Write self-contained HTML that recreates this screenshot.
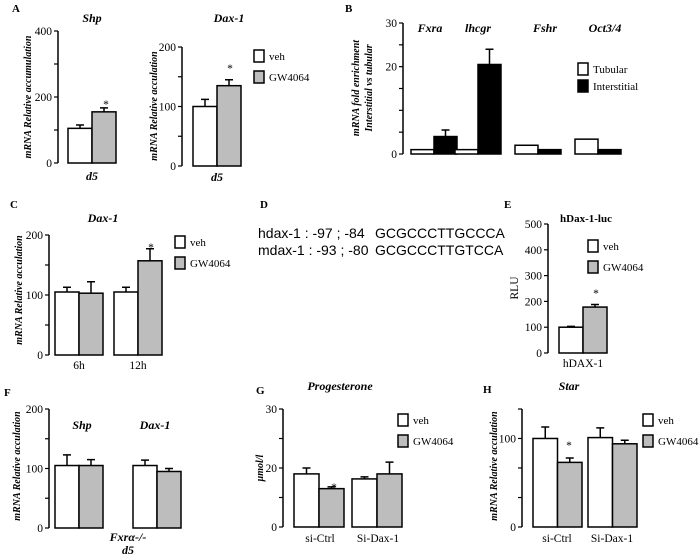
<!DOCTYPE html>
<html><head><meta charset="utf-8"><style>
body{margin:0;background:#fff}
svg{display:block;font-family:"Liberation Serif",serif}
.t{font-size:11.5px}
.lg{font-size:11px}
.ti{font-size:12px;font-style:italic;font-weight:bold}
.yl{font-size:10px;font-style:italic;font-weight:bold}
.pl{font-size:11px;font-weight:bold}
.seq{font-family:"Liberation Sans",sans-serif;font-size:14px}
</style></head><body>
<svg id="fig" width="700" height="556" viewBox="0 0 700 556">
<g id="static">
<text class="pl" x="12" y="12">A</text>
<text class="pl" x="345" y="12">B</text>
<text class="pl" x="10" y="208">C</text>
<text class="pl" x="260" y="208">D</text>
<text class="pl" x="504" y="208">E</text>
<text class="pl" x="4" y="396">F</text>
<text class="pl" x="256" y="394">G</text>
<text class="pl" x="483" y="393">H</text>
<text class="seq" x="258" y="238">hdax-1 : -97 ; -84<tspan x="375">GCGCCCTTGCCCA</tspan></text>
<text class="seq" x="258" y="255">mdax-1 : -93 ; -80<tspan x="375">GCGCCCTTGTCCA</tspan></text>
</g>
</svg>
<script>
const NS="http://www.w3.org/2000/svg";
const svg=document.getElementById('fig');
// Panel A1 Shp
const aShpCats=["d5"];
const aShpVeh=[105], aShpVehErr=[115], aShpGw=[155], aShpGwErr=[167];
const aShpTicks=[0,100,200,300,400], aShpTickLabels=["0","","200","","400"];
// Panel A2 Dax-1
const aDaxCats=["d5"];
const aDaxVeh=[100], aDaxVehErr=[112], aDaxGw=[135], aDaxGwErr=[145];
const aDaxTicks=[0,50,100,150,200], aDaxTickLabels=["0","","100","","200"];
// Panel B
const bCats=["Fxra","lhcgr","Fshr","Oct3/4"];
const bTub=[1,1,2,3.4], bTubErr=[null,null,null,null];
const bInt=[4,20.5,1,1], bIntErr=[5.5,24,null,null];
const bTicks=[0,5,10,15,20,25,30], bTickLabels=["0","","","","20","","30"];
// Panel C
const cCats=["6h","12h"];
const cVeh=[105,105], cVehErr=[113,113], cGw=[103,157], cGwErr=[122,177];
const cTicks=[0,50,100,150,200], cTickLabels=["0","","100","","200"];
// Panel E
const eCats=["hDAX-1"];
const eVeh=[100], eVehErr=[103], eGw=[178], eGwErr=[188];
const eTicks=[0,100,200,300,400,500], eTickLabels=["0","100","200","300","400","500"];
// Panel F
const fCats=["Shp","Dax-1"];
const fVeh=[105,105], fVehErr=[123,114], fGw=[105,95], fGwErr=[115,100];
const fTicks=[0,50,100,150,200], fTickLabels=["0","","100","","200"];
// Panel G
const gCats=["si-Ctrl","Si-Dax-1"];
const gVeh=[18,16.3], gVehErr=[20,17], gGw=[13,18], gGwErr=[13.6,22];
const gTicks=[0,10,20,30,40], gTickLabels=["0","","20","","30"];
// Panel H
const hCats=["si-Ctrl","Si-Dax-1"];
const hVeh=[100,101], hVehErr=[113,112], hGw=[73,94], hGwErr=[78,98];
const hTicks=[0,33.3,66.7,100,133.3], hTickLabels=["0","","","100",""];

function mk(tag,attrs,parent){const e=document.createElementNS(NS,tag);for(const k in attrs)e.setAttribute(k,attrs[k]);(parent||svg).appendChild(e);return e;}
function txt(s,attrs,parent){const e=mk('text',attrs,parent);e.textContent=s;return e;}

function panel(p){
  const g=mk('g',{});
  
  
  const y=v=>p.y0-(v-p.min)/(p.max-p.min)*(p.y0-p.y1);
  const ax=mk('line',{x1:p.ax,y1:p.y1,x2:p.ax,y2:p.y0,stroke:'#000','stroke-width':1.5},g);
  
  
  p.ticks.forEach((t,i)=>{
    const ty=y(t);
    const tk=mk('line',{x1:p.ax-4,y1:ty,x2:p.ax,y2:ty,stroke:'#000','stroke-width':1.2},g);
    
    
    if(p.tickLabels[i]){const tl=txt(p.tickLabels[i],{class:'t',x:p.ax-6,y:ty+4,'text-anchor':'end'},g);
      
      }
  });
  p.cats.forEach((c,i)=>{
    const x0=p.gx[i];
    [[p.s1[0],p.s1[1],p.c1],[p.s2[0],p.s2[1],p.c2]].forEach((s,j)=>{
      const bx=x0+j*p.bw, v=s[0][i];
      const ev=s[1][i];
      const cx=bx+p.bw/2;
      if(ev!=null){
        const el=mk('path',{d:`M${cx},${y(v)}V${y(ev)}M${cx-4},${y(ev)}H${cx+4}`,stroke:'#000','stroke-width':1.5,fill:'none'},g);
        
        
      }
      const r=mk('rect',{x:bx,y:y(v),width:p.bw,height:p.y0-y(v),fill:s[2],stroke:'#000','stroke-width':1.5},g);
      
      
    });
    if(p.catY){const cl=txt(c,{class:p.catClass||'t',x:p.catX?p.catX[i]:x0+p.bw,y:p.catY,'text-anchor':'middle'},g);
      
      }
  });
  (p.stars||[]).forEach(s=>{const st=txt('*',{class:'t',x:s[0],y:s[1],'text-anchor':'middle'},g);
    
    });
  if(p.title){const tt=txt(p.title,{class:p.titleClass||'ti',x:p.tx,y:p.ty,'text-anchor':'middle'},g);
    
    }
  if(p.ylab){p.ylab.forEach((l,k)=>{const yl=txt(l,{class:p.ylClass||'yl',x:0,y:0,'text-anchor':'middle',transform:`translate(${p.ylx[k]},${p.yly}) rotate(-90)`},g);
    
    });}
  if(p.leg){p.leg.labels.forEach((l,k)=>{
    const ly=p.leg.y+k*p.leg.dy;
    const b=mk('rect',{x:p.leg.x,y:ly,width:10,height:12,fill:k?p.c2:p.c1,stroke:'#000','stroke-width':1.5},g);
    
    
    const lt=txt(l,{class:'lg',x:p.leg.x+15,y:ly+10},g);
    
    
  });}
  return g;
}
const G='#bdbdbd', W='#fff';
const legVG=["veh","GW4064"];
panel({name:'panel-a-shp',ax:58,y0:163,y1:31,min:0,max:400,ticks:aShpTicks,tickLabels:aShpTickLabels,cats:aShpCats,gx:[68],bw:24,
  s1:[aShpVeh,aShpVehErr],s2:[aShpGw,aShpGwErr],c1:W,c2:G,catY:180,catClass:'ti',title:'Shp',tx:92,ty:22,
  ylab:['mRNA Relative  accumulation'],ylx:[31],yly:97,stars:[[106,108]]});
panel({name:'panel-a-dax1',ax:182,y0:166,y1:47,min:0,max:200,ticks:aDaxTicks,tickLabels:aDaxTickLabels,cats:aDaxCats,gx:[193],bw:24,
  s1:[aDaxVeh,aDaxVehErr],s2:[aDaxGw,aDaxGwErr],c1:W,c2:G,catY:181,catClass:'ti',title:'Dax-1',tx:229,ty:22,
  ylab:['mRNA Relative  acculation'],ylx:[157],yly:106,stars:[[230,72]],leg:{x:254,y:50,dy:21,labels:legVG}});
panel({name:'panel-b-enrichment',ax:403,y0:154,y1:23,min:0,max:30,ticks:bTicks,tickLabels:bTickLabels,cats:bCats,gx:[411,455,515,575],bw:23,
  s1:[bTub,bTubErr],s2:[bInt,bIntErr],c1:W,c2:'#000',catY:32,catX:[430,478,545,605],catClass:'ti',
  ylab:['mRNA fold enrichment','Interstitial vs tubular'],ylx:[359,372],yly:88,leg:{x:578,y:63,dy:17,labels:["Tubular","Interstitial"]}});
panel({name:'panel-c-dax1-time',ax:49,y0:355,y1:235,min:0,max:200,ticks:cTicks,tickLabels:cTickLabels,cats:cCats,gx:[55,114],bw:24,
  s1:[cVeh,cVehErr],s2:[cGw,cGwErr],c1:W,c2:G,catY:369,title:'Dax-1',tx:103,ty:222,
  ylab:['mRNA Relative  acculation'],ylx:[22],yly:290,stars:[[151,251]],leg:{x:175,y:236,dy:21,labels:legVG}});
panel({name:'panel-e-luciferase',ax:548,y0:353,y1:224,min:0,max:500,ticks:eTicks,tickLabels:eTickLabels,cats:eCats,gx:[559],bw:24,
  s1:[eVeh,eVehErr],s2:[eGw,eGwErr],c1:W,c2:G,catY:367,title:'hDax-1-luc',titleClass:'pl',tx:586,ty:222,
  ylab:['RLU'],ylClass:'t',ylx:[518],yly:288,stars:[[596,297]],leg:{x:588,y:240,dy:21,labels:legVG}});
panel({name:'panel-f-knockout',ax:49,y0:528,y1:409,min:0,max:200,ticks:fTicks,tickLabels:fTickLabels,cats:fCats,gx:[55,133],bw:24,
  s1:[fVeh,fVehErr],s2:[fGw,fGwErr],c1:W,c2:G,catY:429,catX:[82,155],catClass:'ti',
  ylab:['mRNA Relative  acculation'],ylx:[20],yly:466});
panel({name:'panel-g-progesterone',ax:283,y0:527,y1:409,min:0,max:40,ticks:gTicks,tickLabels:gTickLabels,cats:gCats,gx:[294,352],bw:25,
  s1:[gVeh,gVehErr],s2:[gGw,gGwErr],c1:W,c2:G,catY:542,catX:[320,378],title:'Progesterone',tx:340,ty:390,
  ylab:['μmol/l'],ylx:[263],yly:468,stars:[[334,491]],leg:{x:398,y:414,dy:21,labels:legVG}});
panel({name:'panel-h-star',ax:522,y0:527,y1:409,min:0,max:133.3,ticks:hTicks,tickLabels:hTickLabels,cats:hCats,gx:[533,588],bw:24.5,
  s1:[hVeh,hVehErr],s2:[hGw,hGwErr],c1:W,c2:G,catY:542,catX:[557,612],title:'Star',tx:569,ty:390,
  ylab:['mRNA Relative  acculation'],ylx:[497],yly:466,stars:[[569,449]],leg:{x:643,y:414,dy:21,labels:legVG}});
const l1=txt('Fxrα-/-',{class:'ti',x:128,y:541,'text-anchor':'middle'});


const l2=txt('d5',{class:'ti',x:128,y:554,'text-anchor':'middle'});


</script>
</body></html>
